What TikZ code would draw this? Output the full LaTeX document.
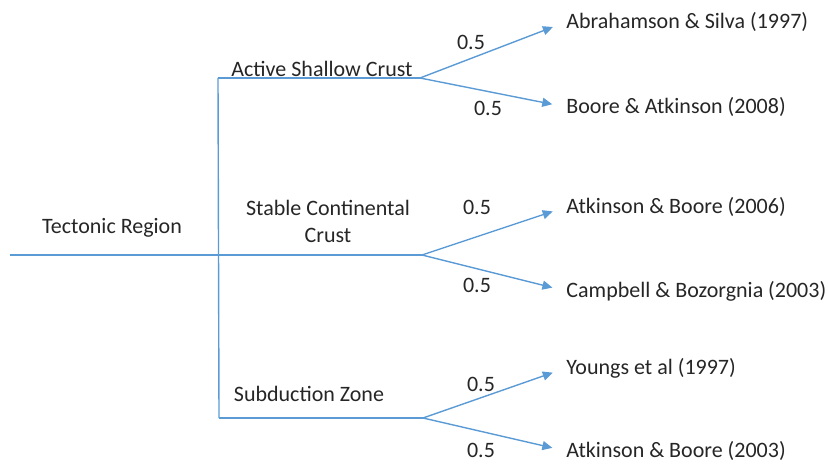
\documentclass[tikz,border=0pt]{standalone}
\usepackage{fontspec}
\setmainfont{Carlito}
\usetikzlibrary{arrows.meta,positioning,calc}
\begin{document}
\begin{tikzpicture}[x=.5pt,y=-.5pt,>={Triangle[length=5pt,width=4.5pt]},
  lbl/.style={font=\fontsize{11}{13.5}\selectfont,text=black!85,inner sep=0pt,align=center},
  leaf/.style={lbl,anchor=west},
  wt/.style={lbl},
  branch/.style={line width=.7pt,draw=treeblue},
  flow/.style={branch,->,shorten >=7pt}]
\definecolor{treeblue}{RGB}{91,155,213}
\useasboundingbox (0,0) rectangle (828,464);
% trunk and junctions
\coordinate (r0) at (10,255);
\coordinate (vt) at (218,78);
\coordinate (vb) at (219,418);
\coordinate (sa) at (420,78);
\coordinate (sc) at (422,255);
\coordinate (sz) at (423,418);
\draw[branch] (r0) -- (sc);
\draw[branch] (vt) -- (vb);
\draw[branch] (vt) -- (sa);
\draw[branch] (vb) -- (sz);
% region labels
\node[lbl] (tr) at (112,228) {Tectonic Region};
\node[lbl] (asc) at (322,69) {Active Shallow Crust};
\node[lbl] (scc) at (328,221) {Stable Continental\\Crust};
\node[lbl] (sbz) at (309,394) {Subduction Zone};
% models
\node[leaf] (a1) at (566,22) {Abrahamson \& Silva (1997)};
\node[leaf] (a2) at (566,107) {Boore \& Atkinson (2008)};
\node[leaf] (c1) at (566,207) {Atkinson \& Boore (2006)};
\node[leaf] (c2) at (566,291) {Campbell \& Bozorgnia (2003)};
\node[leaf] (z1) at (566,368) {Youngs et al (1997)};
\node[leaf] (z2) at (566,451) {Atkinson \& Boore (2003)};
\draw[flow] (sa) -- (a1.west); \draw[flow] (sa) -- (a2.west);
\draw[flow] (sc) -- (c1.west); \draw[flow] (sc) -- (c2.west);
\draw[flow] (sz) -- (z1.west); \draw[flow] (sz) -- (z2.west);
% weights
\node[wt] (wa1) at (471,42) {0.5};
\node[wt] (wa2) at (488,108) {0.5};
\node[wt] (wc1) at (477,207) {0.5};
\node[wt] (wc2) at (477,285) {0.5};
\node[wt] (wz1) at (481,384) {0.5};
\node[wt] (wz2) at (481,450) {0.5};
\end{tikzpicture}
\end{document}
